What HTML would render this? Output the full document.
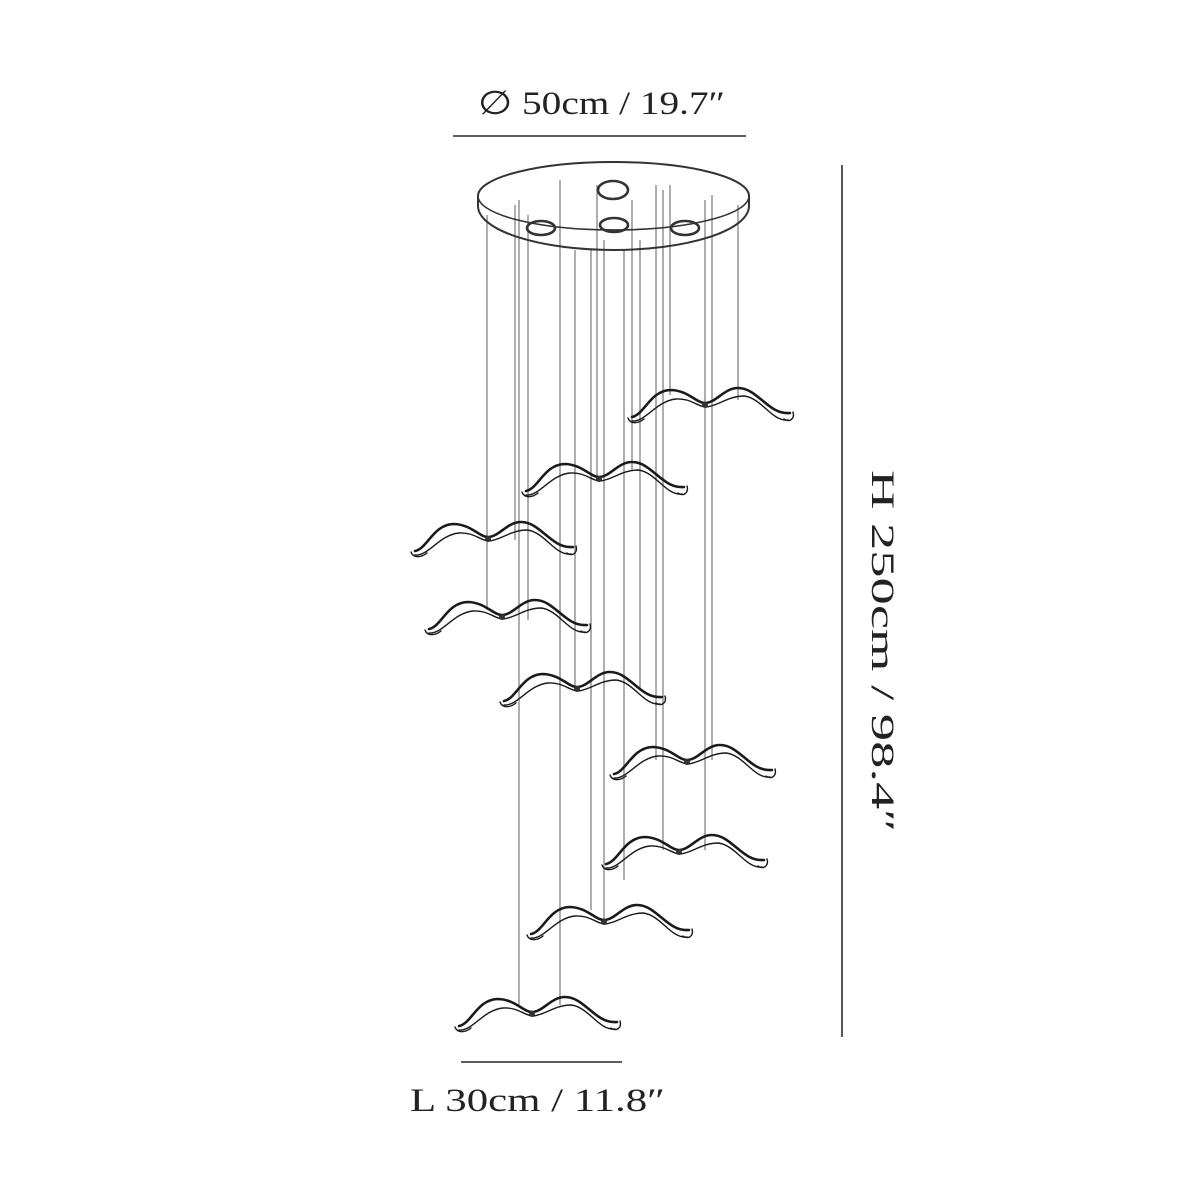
<!DOCTYPE html>
<html><head><style>
html,body{margin:0;padding:0;background:#fff;width:1200px;height:1200px;overflow:hidden}
svg{display:block}
text{font-family:"Liberation Serif",serif;fill:#222}
</style></head><body>
<svg width="1200" height="1200" viewBox="0 0 1200 1200">
<defs>
<g id="bird" fill="none" stroke="#1a1a1a" stroke-linecap="round">
<path d="M4,29 C16,27 22,3 42,2 C60,2 68,15 77,15 C88,15 96,0 110,0 C130,0 140,27 162,25" stroke-width="2.6"/>
<path d="M4,33 C18,34 28,13 48,11 C63,10 70,19 78,19 C90,18 100,8 116,8 C134,10 144,34 160,32" stroke-width="1.4"/>
<path d="M0,30 C2,36 10,36 16,31 M156,31 C161,35 167,31 165,24" stroke-width="1.4"/>
<circle cx="77" cy="17" r="3" fill="#333" stroke="none"/>
</g>
</defs>
<g stroke="#999" stroke-width="1.6">
<line x1="487" y1="215" x2="487" y2="610"/>
<line x1="515" y1="205" x2="515" y2="540"/>
<line x1="519" y1="200" x2="519" y2="1005"/>
<line x1="528" y1="215" x2="528" y2="620"/>
<line x1="560" y1="180" x2="560" y2="1005"/>
<line x1="591" y1="250" x2="591" y2="910"/>
<line x1="597" y1="185" x2="597" y2="480"/>
<line x1="604" y1="240" x2="604" y2="920"/>
<line x1="624" y1="250" x2="624" y2="880"/>
<line x1="632" y1="200" x2="632" y2="470"/>
<line x1="656" y1="185" x2="656" y2="760"/>
<line x1="663" y1="190" x2="663" y2="850"/>
<line x1="670" y1="185" x2="670" y2="395"/>
<line x1="705" y1="200" x2="705" y2="850"/>
<line x1="712" y1="195" x2="712" y2="760"/>
<line x1="738" y1="205" x2="738" y2="400"/>
<line x1="575" y1="250" x2="575" y2="690"/>
<line x1="640" y1="240" x2="640" y2="690"/>
</g>
<g fill="none" stroke="#333" stroke-width="2">
<path d="M478,196 A135.5,34 0 0 1 749,196"/>
<path d="M478,196 A135.5,34 0 0 0 749,196" stroke-width="1.6"/>
<path d="M478,196 L478,206 A135.5,44 0 0 0 749,206 L749,196"/>
<ellipse cx="613" cy="190" rx="15" ry="9" stroke-width="2.6"/>
<ellipse cx="541" cy="228" rx="14" ry="7" stroke-width="2.6"/>
<ellipse cx="614" cy="225" rx="14" ry="7" stroke-width="2.6"/>
<ellipse cx="685" cy="228" rx="14" ry="7" stroke-width="2.6"/>
</g>
<use href="#bird" x="628" y="388"/>
<use href="#bird" x="522" y="462"/>
<use href="#bird" x="411" y="522"/>
<use href="#bird" x="425" y="600"/>
<use href="#bird" x="500" y="672"/>
<use href="#bird" x="610" y="745"/>
<use href="#bird" x="602" y="835"/>
<use href="#bird" x="527" y="905"/>
<use href="#bird" x="455" y="997"/>
<g stroke="#444" stroke-width="1.8">
<line x1="453" y1="136" x2="746" y2="136"/>
<line x1="842" y1="165" x2="842" y2="1037"/>
<line x1="461" y1="1062" x2="622" y2="1062"/>
</g>
<text x="478" y="114" font-size="33" textLength="247" lengthAdjust="spacingAndGlyphs">∅ 50cm / 19.7″</text>
<text x="410" y="1111" font-size="33" textLength="255" lengthAdjust="spacingAndGlyphs">L 30cm / 11.8″</text>
<text transform="translate(872,470) rotate(90)" font-size="33" textLength="362" lengthAdjust="spacingAndGlyphs">H 250cm / 98.4″</text>
</svg>
</body></html>
